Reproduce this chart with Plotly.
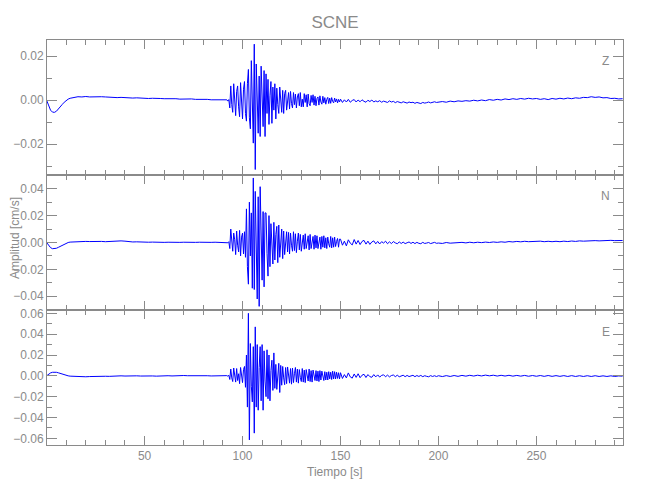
import numpy as np
import plotly.graph_objects as go

# ---------------- sample times (s) ----------------
t_pre = np.arange(0, 12, 1.0)         # 12 samples
t_early = np.arange(12, 92, 2.0)      # 40 samples
t_coda = np.arange(92, 150, 0.5)      # 116 samples
t_post_a = np.arange(150, 200, 1.0)   # 50 samples
t_post_b = np.arange(200, 295, 2.0)   # 48 samples
time_s = np.concatenate([t_pre, t_early, t_coda, t_post_a, t_post_b])

# ---------------- Z component (cm/s) ----------------
z_pre = [0.0, -0.0025, -0.0045, -0.0054, -0.0055, -0.0050, -0.0041, -0.0030, -0.0019, -0.0009, -0.0001, 0.0005]
z_early = [0.0009, 0.0013, 0.0016, 0.0015, 0.0017, 0.0015, 0.0016, 0.0014, 0.0016, 0.0015,
           0.0013, 0.0014, 0.0012, 0.0013, 0.0011, 0.0012, 0.0010, 0.0011, 0.0009, 0.0010,
           0.0008, 0.0009, 0.0007, 0.0008, 0.0007, 0.0008, 0.0006, 0.0007, 0.0005, 0.0006,
           0.0005, 0.0006, 0.0004, 0.0005, 0.0003, 0.0004, 0.0002, 0.0002, 0.0000, 0.0001]
z_coda = [0.0002, -0.0004, 0.0003, -0.0035, 0.0065, -0.0020, -0.0055, 0.0075, 0.0010, -0.0070,
          0.0040, 0.0065, -0.0030, -0.0075, 0.0080, -0.0015, -0.0085, 0.0050, 0.0085, -0.0060,
          -0.0095, 0.0075, 0.0140, -0.0080, -0.0130, 0.0180, -0.0050, -0.0195, 0.0255, -0.0315,
          0.0165, 0.0030, -0.0150, 0.0110, -0.0165, 0.0155, -0.0040, -0.0120, 0.0135, -0.0165,
          0.0120, -0.0060, 0.0095, -0.0110, 0.0020, 0.0085, -0.0105, 0.0060, -0.0045, 0.0075,
          -0.0085, 0.0055, -0.0020, -0.0060, 0.0060, 0.0015, -0.0055, 0.0045, -0.0060, 0.0030,
          0.0045, -0.0045, 0.0010, 0.0035, -0.0040, 0.0040, -0.0015, -0.0035, 0.0035, -0.0020,
          0.0028, -0.0035, 0.0015, 0.0030, -0.0025, 0.0035, -0.0030, 0.0005, -0.0030, 0.0030,
          -0.0010, 0.0025, -0.0030, 0.0028, -0.0015, -0.0025, 0.0022, -0.0010, 0.0025, -0.0022,
          0.0018, -0.0025, 0.0008, 0.0015, -0.0022, 0.0020, -0.0008, -0.0018, 0.0018, -0.0012,
          0.0012, -0.0018, 0.0004, 0.0013, -0.0015, 0.0010, -0.0014, 0.0012, -0.0005, -0.0012,
          0.0010, -0.0008, 0.0006, -0.0012, 0.0004, -0.0008]
z_post_a = [0.0005, -0.0010, 0.0002, -0.0008, 0.0004, -0.0009, -0.0001, 0.0003, -0.0008, 0.0001,
            -0.0007, 0.0002, -0.0005, -0.0009, 0.0000, -0.0006, 0.0001, -0.0008, -0.0003, -0.0007,
            -0.0002, -0.0009, -0.0004, -0.0006, -0.0010, -0.0003, -0.0008, -0.0005, -0.0011, -0.0006,
            -0.0009, -0.0012, -0.0007, -0.0010, -0.0013, -0.0008, -0.0011, -0.0009, -0.0014, -0.0010,
            -0.0012, -0.0015, -0.0010, -0.0013, -0.0011, -0.0008, -0.0012, -0.0009, -0.0007, -0.0010]
z_post_b = [-0.0008, -0.0006, -0.0009, -0.0004, -0.0007, -0.0003, -0.0005, -0.0002, -0.0004, 0.0000,
            -0.0003, 0.0001, -0.0002, 0.0003, 0.0000, 0.0004, 0.0001, 0.0006, 0.0003, 0.0007,
            0.0004, 0.0008, 0.0005, 0.0009, 0.0006, 0.0008, 0.0004, 0.0007, 0.0003, 0.0008,
            0.0005, 0.0009, 0.0006, 0.0010, 0.0007, 0.0011, 0.0009, 0.0013, 0.0012, 0.0016,
            0.0013, 0.0015, 0.0011, 0.0012, 0.0008, 0.0009, 0.0006, 0.0007]

# ---------------- N component (cm/s) ----------------
n_pre = [0.0, -0.0020, -0.0038, -0.0046, -0.0047, -0.0043, -0.0036, -0.0028, -0.0020, -0.0012, -0.0005, 0.0000]
n_early = [0.0003, 0.0005, 0.0007, 0.0006, 0.0008, 0.0007, 0.0009, 0.0007, 0.0008, 0.0006,
           0.0008, 0.0007, 0.0009, 0.0012, 0.0010, 0.0006, 0.0004, 0.0005, 0.0003, 0.0004,
           0.0002, 0.0003, 0.0001, 0.0003, 0.0001, 0.0002, 0.0000, 0.0002, 0.0001, 0.0002,
           0.0000, 0.0002, 0.0001, 0.0002, 0.0000, 0.0002, 0.0001, 0.0002, 0.0001, 0.0002]
n_coda = [0.0003, -0.0002, 0.0006, -0.0045, 0.0100, -0.0030, -0.0065, 0.0070, 0.0020, -0.0090,
          0.0085, -0.0020, -0.0070, 0.0090, -0.0100, 0.0040, 0.0070, -0.0085, 0.0080, -0.0110,
          0.0250, -0.0180, -0.0310, 0.0300, -0.0100, 0.0220, -0.0340, 0.0480, -0.0350, 0.0380,
          -0.0150, -0.0420, 0.0340, -0.0475, 0.0415, 0.0100, -0.0280, 0.0230, -0.0330, 0.0220,
          0.0220, -0.0080, -0.0250, 0.0200, -0.0180, 0.0140, 0.0030, -0.0160, 0.0150, -0.0130,
          0.0060, 0.0120, -0.0150, 0.0130, -0.0110, 0.0020, 0.0100, -0.0120, 0.0085, -0.0090,
          0.0030, 0.0080, -0.0070, 0.0075, -0.0085, 0.0070, -0.0020, -0.0065, 0.0080, -0.0060,
          0.0065, -0.0075, 0.0010, 0.0070, -0.0055, 0.0060, -0.0065, 0.0025, 0.0055, -0.0050,
          0.0065, -0.0045, 0.0005, 0.0050, -0.0055, 0.0060, -0.0045, -0.0010, 0.0045, -0.0050,
          0.0055, -0.0040, 0.0050, -0.0045, 0.0015, 0.0040, -0.0050, 0.0045, -0.0035, 0.0050,
          -0.0040, 0.0035, -0.0045, 0.0040, -0.0010, -0.0035, 0.0045, -0.0040, 0.0035, -0.0035,
          0.0040, -0.0030, 0.0008, 0.0030, -0.0035, 0.0025]
n_post_a = [0.0025, -0.0020, 0.0010, -0.0025, 0.0020, -0.0005, -0.0018, 0.0022, -0.0012, 0.0015,
            -0.0015, 0.0008, 0.0016, -0.0012, 0.0010, -0.0014, 0.0004, 0.0012, -0.0010, 0.0008,
            -0.0011, 0.0006, -0.0004, 0.0010, -0.0009, 0.0005, -0.0008, 0.0007, -0.0003, -0.0009,
            0.0004, -0.0007, 0.0003, -0.0008, -0.0002, 0.0004, -0.0007, 0.0002, -0.0008, 0.0001,
            -0.0006, -0.0009, 0.0001, -0.0007, -0.0004, 0.0000, -0.0008, -0.0003, 0.0001, -0.0006]
n_post_b = [-0.0004, -0.0007, 0.0000, -0.0005, -0.0002, -0.0004, 0.0001, -0.0003, 0.0002, -0.0002,
            0.0002, -0.0001, 0.0003, 0.0000, 0.0004, 0.0001, 0.0005, 0.0002, 0.0007, 0.0004,
            0.0008, 0.0005, 0.0009, 0.0006, 0.0008, 0.0005, 0.0010, 0.0006, 0.0009, 0.0006,
            0.0009, 0.0006, 0.0010, 0.0007, 0.0011, 0.0008, 0.0012, 0.0010, 0.0013, 0.0011,
            0.0014, 0.0012, 0.0015, 0.0013, 0.0016, 0.0014, 0.0013, 0.0015]

# ---------------- E component (cm/s) ----------------
e_pre = [0.0, 0.0015, 0.0028, 0.0034, 0.0036, 0.0034, 0.0029, 0.0022, 0.0015, 0.0009, 0.0004, 0.0000]
e_early = [-0.0003, -0.0006, -0.0008, -0.0007, -0.0009, -0.0007, -0.0008, -0.0006, -0.0007, -0.0004,
           -0.0005, -0.0002, -0.0003, 0.0000, -0.0002, 0.0001, -0.0001, 0.0000, -0.0002, 0.0000,
           -0.0002, -0.0001, -0.0003, 0.0000, -0.0002, 0.0001, -0.0001, 0.0002, 0.0000, 0.0003,
           0.0001, 0.0002, 0.0000, 0.0002, -0.0001, 0.0001, -0.0001, 0.0001, -0.0001, 0.0000]
e_coda = [0.0002, -0.0003, 0.0005, -0.0035, 0.0065, -0.0020, -0.0055, 0.0075, 0.0015, -0.0060,
          0.0070, -0.0045, 0.0020, -0.0075, 0.0080, -0.0010, -0.0065, 0.0060, 0.0090, -0.0110,
          0.0200, -0.0300, 0.0600, -0.0615, 0.0310, -0.0100, -0.0250, 0.0280, -0.0550, 0.0470,
          -0.0300, 0.0300, -0.0330, 0.0080, 0.0280, -0.0240, 0.0300, -0.0330, 0.0240, -0.0050,
          -0.0200, 0.0250, -0.0220, 0.0200, -0.0240, 0.0050, 0.0150, -0.0140, 0.0220, -0.0120,
          0.0110, -0.0130, 0.0030, 0.0120, -0.0160, 0.0100, -0.0090, 0.0090, -0.0020, -0.0085,
          0.0080, -0.0075, 0.0085, -0.0030, -0.0070, 0.0070, -0.0080, 0.0075, -0.0065, 0.0020,
          0.0080, -0.0060, 0.0065, -0.0070, 0.0060, -0.0015, -0.0055, 0.0070, -0.0060, 0.0055,
          -0.0065, 0.0060, -0.0010, -0.0050, 0.0065, -0.0055, 0.0050, -0.0060, 0.0055, -0.0020,
          -0.0045, 0.0050, -0.0050, 0.0045, -0.0055, 0.0050, -0.0040, 0.0045, -0.0010, -0.0045,
          0.0040, -0.0040, 0.0035, -0.0040, 0.0040, -0.0030, 0.0035, -0.0035, 0.0045, -0.0030,
          0.0040, -0.0030, 0.0035, -0.0025, 0.0030, -0.0030]
e_post_a = [0.0030, -0.0025, 0.0012, -0.0020, 0.0028, -0.0010, -0.0022, 0.0018, -0.0015, 0.0020,
            -0.0018, 0.0006, 0.0015, -0.0016, 0.0012, -0.0008, -0.0014, 0.0012, -0.0010, 0.0009,
            -0.0012, 0.0004, 0.0010, -0.0009, 0.0007, -0.0010, 0.0003, 0.0008, -0.0008, 0.0006,
            -0.0009, 0.0002, 0.0006, -0.0008, 0.0004, -0.0007, -0.0002, 0.0005, -0.0008, 0.0003,
            -0.0006, 0.0004, -0.0008, 0.0001, -0.0005, -0.0009, 0.0002, -0.0006, 0.0001, -0.0007]
e_post_b = [0.0001, -0.0007, 0.0002, -0.0006, 0.0003, -0.0005, 0.0004, -0.0003, 0.0005, -0.0002,
            0.0006, -0.0001, 0.0007, 0.0000, 0.0006, -0.0002, 0.0005, -0.0002, 0.0005, -0.0003,
            0.0004, -0.0003, 0.0004, -0.0004, 0.0003, -0.0004, 0.0003, -0.0005, 0.0003, -0.0005,
            0.0002, -0.0005, 0.0002, -0.0006, 0.0002, -0.0006, 0.0001, -0.0006, 0.0001, -0.0006,
            0.0001, -0.0006, 0.0000, -0.0006, 0.0000, -0.0006, -0.0001, -0.0003]

comp_z = z_pre + z_early + z_coda + z_post_a + z_post_b
comp_n = n_pre + n_early + n_coda + n_post_a + n_post_b
comp_e = e_pre + e_early + e_coda + e_post_a + e_post_b

component_labels = ["Z", "N", "E"]
title_text = "SCNE"
x_title = "Tiempo [s]"
y_title = "Amplitud [cm/s]"

# ---------------- styling ----------------
FONT = "Liberation Sans, Arial, sans-serif"
TXT = "#8a8a8a"
AX = "#8a8a8a"
BLUE = "rgb(0,0,255)"

fig = go.Figure()
for i, vals in enumerate([comp_z, comp_n, comp_e]):
    sfx = "" if i == 0 else str(i + 1)
    fig.add_trace(go.Scatter(x=time_s, y=vals, mode="lines",
                             line=dict(color=BLUE, width=1.0),
                             xaxis="x" + sfx, yaxis="y" + sfx,
                             showlegend=False, hoverinfo="skip"))

def xax(anchor, labels):
    return dict(domain=[0, 1], anchor=anchor, range=[0.2, 294.2],
                tick0=0, dtick=50, ticks="inside", ticklen=9, tickcolor=AX,
                minor=dict(dtick=10, ticklen=5, tickcolor=AX, ticks="inside", showgrid=False),
                showline=True, linecolor=AX, linewidth=1, mirror="allticks",
                showgrid=False, zeroline=False, showticklabels=labels,
                automargin=False,
                tickfont=dict(family=FONT, size=12, color=TXT))

def yax(anchor, dom, rng):
    return dict(domain=dom, anchor=anchor, range=rng,
                tick0=0, dtick=0.02, tickformat=".2f",
                ticks="inside", ticklen=10, tickcolor=AX,
                minor=dict(dtick=0.01, ticklen=5, tickcolor=AX, ticks="inside", showgrid=False),
                showline=True, linecolor=AX, linewidth=1, mirror="allticks",
                showgrid=False, zeroline=False, automargin=False,
                tickfont=dict(family=FONT, size=12, color=TXT))

fig.update_layout(
    width=650, height=500,
    margin=dict(l=39, r=35, t=32, b=63, autoexpand=False),
    paper_bgcolor="white", plot_bgcolor="white",
    xaxis=xax("y", False),
    xaxis2=xax("y2", False),
    xaxis3=xax("y3", True),
    yaxis=yax("x", [2/3, 1.0], [-0.034, 0.0274]),
    yaxis2=yax("x2", [1/3, 2/3], [-0.0502, 0.0502]),
    yaxis3=yax("x3", [0.0, 1/3], [-0.0664, 0.0632]),
    title=dict(text=title_text, x=0.5, xref="paper", xanchor="center",
               y=1 - 14/500, yref="container", yanchor="middle",
               font=dict(family=FONT, size=17, color=TXT)),
)

annots = [
    dict(text=x_title, x=0.5, y=-0.066, xref="paper", yref="paper",
         xanchor="center", yanchor="middle", showarrow=False,
         font=dict(family=FONT, size=12, color=TXT)),
    dict(text=y_title, x=-0.0556, y=0.511, xref="paper", yref="paper",
         xanchor="center", yanchor="middle", textangle=-90, showarrow=False,
         font=dict(family=FONT, size=12, color=TXT)),
]
label_y = [0.948, 0.615, 0.280]
for lab, yy in zip(component_labels, label_y):
    annots.append(dict(text=lab, x=0.970, y=yy, xref="paper", yref="paper",
                       xanchor="center", yanchor="middle", showarrow=False,
                       font=dict(family=FONT, size=12, color=TXT)))
fig.update_layout(annotations=annots)

fig.write_html("out.html")
